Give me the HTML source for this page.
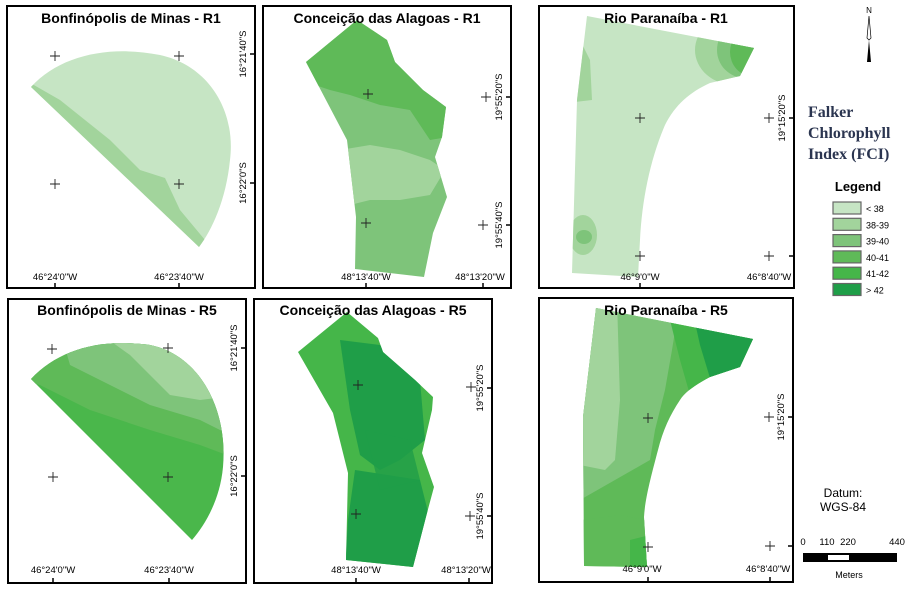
<!DOCTYPE html>
<html><head><meta charset="utf-8"><style>
html,body{margin:0;padding:0;background:#fff;}
svg{display:block;font-family:"Liberation Sans",Arial,sans-serif;}
.fr{fill:none;stroke:#000;stroke-width:2;}
.cr{stroke:#222;stroke-width:0.9;fill:none;}
.tk{stroke:#000;stroke-width:1.5;}
.ttl{font-size:14px;font-weight:bold;text-anchor:middle;}
.lb{font-size:9.5px;text-anchor:middle;}
</style></head><body>
<svg id="map" width="910" height="590" viewBox="0 0 910 590">
<defs>
<clipPath id="c1"><path d="M31,87 C60,55 110,45 160,55 C210,66 236,112 230,160 C226,200 212,230 199,247 Z"/></clipPath>
<clipPath id="c4"><path d="M31,379 C58,350 100,338 150,345 C200,355 228,410 223,467 C220,500 205,525 192,540 Z"/></clipPath>
<clipPath id="c2"><path d="M306,62 L357,20 L387,40 L395,62 L423,90 L446,107 L442,137 L435,157 L447,197 L433,233 L424,277 L355,269 L356,217 L347,140 Z"/></clipPath>
<clipPath id="c5"><path d="M298,352 L347,312 L378,338 L383,352 L415,380 L433,397 L432,410 L422,453 L434,487 L427,513 L413,567 L346,560 L348,473 L333,413 Z"/></clipPath>
<clipPath id="c3"><path d="M587,16 L754,48 L740,76 L710,83 C690,92 675,105 665,125 C650,160 642,200 640,240 L638,277 L572,273 L577,100 Z"/></clipPath>
<clipPath id="c6"><path d="M596,308 L753,339 L740,367 L710,377 C695,385 685,392 680,400 C670,415 663,430 658,450 C650,480 645,500 644,517 L647,567 L584,566 L583,417 Z"/></clipPath>
</defs>

<!-- Panel 1 -->
<g>
<rect x="7" y="6" width="248" height="282" class="fr"/>
<g clip-path="url(#c1)">
<rect x="20" y="40" width="230" height="220" fill="#c6e5c4"/>
<path d="M25,80 L60,100 L110,140 L140,170 L165,178 L180,210 L205,240 L200,255 L20,100 Z" fill="#a2d49c"/>
</g>
<text x="131" y="23" class="ttl">Bonfinópolis de Minas - R1</text>
<g class="cr"><path d="M50,56h10M55,51v10M174,56h10M179,51v10M50,184h10M55,179v10M174,184h10M179,179v10"/></g>
<path class="tk" d="M55,283v5M179,283v5M250,54h5M250,183h5"/>
<text x="55" y="280" class="lb">46°24'0"W</text><text x="179" y="280" class="lb">46°23'40"W</text>
<text class="lb" transform="translate(246,54) rotate(-90)">16°21'40"S</text>
<text class="lb" transform="translate(246,183) rotate(-90)">16°22'0"S</text>
</g>

<!-- Panel 2 -->
<g>
<rect x="263" y="6" width="248" height="282" class="fr"/>
<g clip-path="url(#c2)">
<rect x="290" y="10" width="170" height="280" fill="#7ec47a"/>
<path d="M290,10 L460,10 L460,135 L430,140 L410,110 L380,105 L350,95 L330,90 L300,80 Z" fill="#5fba58"/>
<path d="M340,150 L370,145 L400,150 L430,160 L445,170 L430,195 L400,200 L370,200 L350,205 L340,190 Z" fill="#a2d49c"/>
</g>
<text x="387" y="23" class="ttl">Conceição das Alagoas - R1</text>
<g class="cr"><path d="M363,94h10M368,89v10M361,223h10M366,218v10M481,97h10M486,92v10M478,225h10M483,220v10"/></g>
<path class="tk" d="M366,283v5M483,283v5M506,97h5M506,225h5"/>
<text x="366" y="280" class="lb">48°13'40"W</text><text x="480" y="280" class="lb">48°13'20"W</text>
<text class="lb" transform="translate(502,97) rotate(-90)">19°55'20"S</text>
<text class="lb" transform="translate(502,225) rotate(-90)">19°55'40"S</text>
</g>

<!-- Panel 3 -->
<g>
<rect x="539" y="6" width="255" height="282" class="fr"/>
<g clip-path="url(#c3)">
<rect x="565" y="10" width="200" height="275" fill="#c6e5c4"/>
<ellipse cx="735" cy="50" rx="40" ry="35" fill="#a2d49c"/>
<ellipse cx="745" cy="50" rx="28" ry="28" fill="#7ec47a"/>
<ellipse cx="752" cy="52" rx="22" ry="24" fill="#5fba58"/>
<path d="M575,30 L590,60 L592,100 L575,102 Z" fill="#a2d49c"/>
<ellipse cx="583" cy="235" rx="14" ry="20" fill="#a2d49c"/>
<ellipse cx="584" cy="237" rx="8" ry="7" fill="#7ec47a"/>
</g>
<text x="666" y="23" class="ttl">Rio Paranaíba - R1</text>
<g class="cr"><path d="M635,118h10M640,113v10M764,118h10M769,113v10M635,256h10M640,251v10M764,256h10M769,251v10"/></g>
<path class="tk" d="M640,283v5M789,118h5M789,256h5"/>
<text x="640" y="280" class="lb">46°9'0"W</text><text x="769" y="280" class="lb">46°8'40"W</text>
<text class="lb" transform="translate(785,118) rotate(-90)">19°15'20"S</text>
</g>

<!-- Panel 4 -->
<g>
<rect x="8" y="299" width="238" height="284" class="fr"/>
<g clip-path="url(#c4)">
<rect x="20" y="330" width="220" height="220" fill="#4ab74b"/>
<path d="M20,330 L240,330 L240,460 L200,445 L150,430 L90,410 L40,385 L20,380 Z" fill="#5fba58"/>
<path d="M60,330 L240,330 L240,440 L200,420 L150,405 L110,385 L70,365 Z" fill="#7ec47a"/>
<path d="M95,330 L240,330 L240,395 L200,400 L170,395 L150,375 L130,355 Z" fill="#a2d49c"/>
</g>
<text x="127" y="315" class="ttl">Bonfinópolis de Minas - R5</text>
<g class="cr"><path d="M47,349h10M52,344v10M163,348h10M168,343v10M48,477h10M53,472v10M163,477h10M168,472v10"/></g>
<path class="tk" d="M53,578v5M169,578v5M241,348h5M241,476h5"/>
<text x="53" y="573" class="lb">46°24'0"W</text><text x="169" y="573" class="lb">46°23'40"W</text>
<text class="lb" transform="translate(237,348) rotate(-90)">16°21'40"S</text>
<text class="lb" transform="translate(237,476) rotate(-90)">16°22'0"S</text>
</g>

<!-- Panel 5 -->
<g>
<rect x="254" y="299" width="238" height="284" class="fr"/>
<g clip-path="url(#c5)">
<rect x="290" y="305" width="150" height="270" fill="#45b649"/>
<path d="M340,340 L380,345 L420,380 L425,440 L400,460 L380,470 L360,455 L350,410 Z" fill="#1f9e48"/>
<path d="M355,470 L420,480 L430,520 L415,570 L345,570 L348,520 Z" fill="#1f9e48"/>
<path d="M365,430 L410,440 L420,480 L380,490 Z" fill="#1f9e48" opacity="0.8"/>
</g>
<text x="373" y="315" class="ttl">Conceição das Alagoas - R5</text>
<g class="cr"><path d="M353,385h10M358,380v10M466,387h10M471,382v10M351,514h10M356,509v10M465,516h10M470,511v10"/></g>
<path class="tk" d="M356,578v5M469,578v5M487,388h5M487,516h5"/>
<text x="356" y="573" class="lb">48°13'40"W</text><text x="466" y="573" class="lb">48°13'20"W</text>
<text class="lb" transform="translate(483,388) rotate(-90)">19°55'20"S</text>
<text class="lb" transform="translate(483,516) rotate(-90)">19°55'40"S</text>
</g>

<!-- Panel 6 -->
<g>
<rect x="539" y="298" width="254" height="284" class="fr"/>
<g clip-path="url(#c6)">
<rect x="580" y="300" width="180" height="270" fill="#5fba58"/>
<path d="M580,300 L680,300 L672,350 L665,390 L655,430 L650,460 L580,500 Z" fill="#7ec47a"/>
<path d="M580,300 L617,300 L620,400 L615,460 L605,470 L580,465 Z" fill="#a2d49c"/>
<path d="M665,300 L760,300 L760,380 L690,395 L680,360 Z" fill="#45b649"/>
<path d="M690,300 L760,300 L760,380 L710,378 L700,345 Z" fill="#1f9e48"/>
<path d="M580,520 L620,515 L645,520 L650,570 L580,570 Z" fill="#5fba58"/>
<path d="M630,540 L650,535 L650,570 L630,570 Z" fill="#45b649"/>
</g>
<text x="666" y="315" class="ttl">Rio Paranaíba - R5</text>
<g class="cr"><path d="M643,418h10M648,413v10M764,417h10M769,412v10M643,547h10M648,542v10M765,546h10M770,541v10"/></g>
<path class="tk" d="M648,577v5M770,577v5M788,417h5M788,546h5"/>
<text x="642" y="572" class="lb">46°9'0"W</text><text x="768" y="572" class="lb">46°8'40"W</text>
<text class="lb" transform="translate(784,417) rotate(-90)">19°15'20"S</text>
</g>

<!-- North arrow -->
<g>
<text x="869" y="13" font-size="8" text-anchor="middle">N</text>
<path d="M869,16 L871,38 L869,40 L867,38 Z" fill="#fff" stroke="#000" stroke-width="0.7"/>
<path d="M869,40 L871,62 L867,62 Z" fill="#000"/>
</g>

<g font-family="'Liberation Serif',serif" font-weight="bold" font-size="16" fill="#2b3550">
<text x="808" y="117">Falker</text><text x="808" y="138">Chlorophyll</text><text x="808" y="159">Index (FCI)</text>
</g>
<text x="858" y="191" font-size="13" font-weight="bold" text-anchor="middle">Legend</text>
<g id="legend"></g>

<g font-size="12" text-anchor="middle">
<text x="843" y="497">Datum:</text><text x="843" y="511">WGS-84</text>
</g>
<g font-size="9.5">
<text x="803" y="545" text-anchor="middle">0</text>
<text x="827" y="545" text-anchor="middle">110</text>
<text x="848" y="545" text-anchor="middle">220</text>
<text x="897" y="545" text-anchor="middle">440</text>
<rect x="803" y="553" width="94" height="9" fill="#000"/>
<rect x="828" y="555" width="21" height="5" fill="#fff"/>
<text x="849" y="578" text-anchor="middle" font-size="9">Meters</text>
</g>
</svg>
<script>
const classLabels = ["< 38","38-39","39-40","40-41","41-42","> 42"];
const classColors = ["#c6e5c4","#a2d49c","#7ec47a","#5fba58","#45b649","#1f9e48"];
const NS="http://www.w3.org/2000/svg";
const lg=document.getElementById('legend');
classLabels.forEach((t,i)=>{
  const g=document.createElementNS(NS,'g');
  
  
  const r=document.createElementNS(NS,'rect');
  r.setAttribute('x',833);r.setAttribute('y',202+i*16.3);
  r.setAttribute('width',28);r.setAttribute('height',12);
  r.setAttribute('fill',classColors[i]);r.setAttribute('stroke','#666');r.setAttribute('stroke-width','1.2');
  const tx=document.createElementNS(NS,'text');
  tx.setAttribute('x',866);tx.setAttribute('y',212+i*16.3);
  tx.setAttribute('font-size','9');tx.textContent=t;
  g.appendChild(r);g.appendChild(tx);lg.appendChild(g);
});
</script>
</body></html>
